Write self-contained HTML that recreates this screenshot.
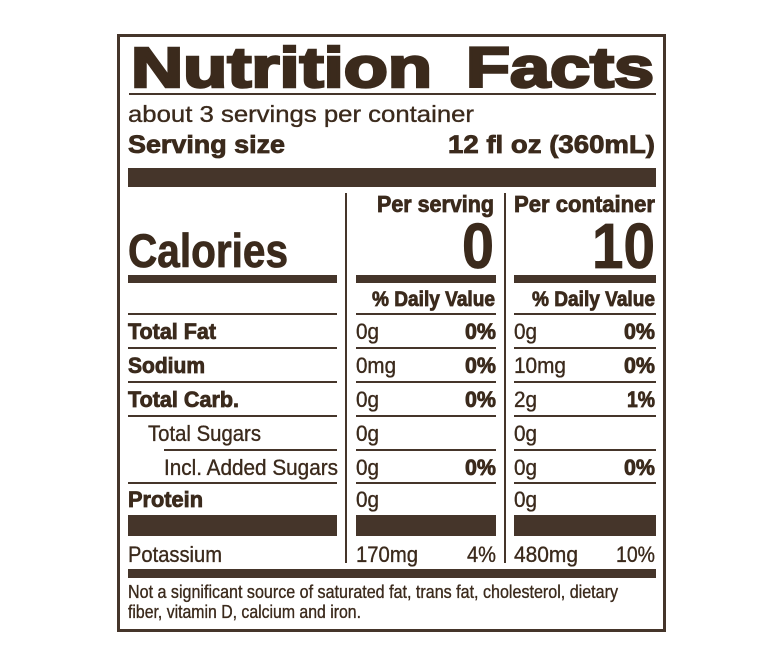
<!DOCTYPE html>
<html><head><meta charset="utf-8"><style>
html,body{margin:0;padding:0;background:#fff;}
svg{display:block;}
text{font-family:"Liberation Sans",Arial,sans-serif;fill:#3b2a1c;}
.b{font-weight:700;stroke:#3b2a1c;stroke-width:0.8;}
.r{font-weight:400;stroke:#3b2a1c;stroke-width:0.35;}
</style></head><body>
<svg width="769" height="661" viewBox="0 0 769 661" xmlns="http://www.w3.org/2000/svg">
<rect x="0" y="0" width="769" height="661" fill="#fff"/>
<g fill="#45352a">
<rect x="117" y="34" width="549" height="3"/>
<rect x="117" y="629" width="549" height="3"/>
<rect x="117" y="34" width="3" height="598"/>
<rect x="663" y="34" width="3" height="598"/>
<rect x="129" y="93" width="527" height="2"/>
<rect x="128" y="168" width="528" height="19"/>
<rect x="345" y="193" width="2" height="370"/>
<rect x="504" y="193" width="2" height="370"/>
<rect x="128" y="275" width="209" height="8"/>
<rect x="356" y="275" width="140" height="8"/>
<rect x="514" y="275" width="142" height="8"/>
<rect x="128" y="313" width="209" height="2"/>
<rect x="356" y="313" width="140" height="2"/>
<rect x="514" y="313" width="142" height="2"/>
<rect x="128" y="347" width="209" height="2"/>
<rect x="356" y="347" width="140" height="2"/>
<rect x="514" y="347" width="142" height="2"/>
<rect x="128" y="381" width="209" height="2"/>
<rect x="356" y="381" width="140" height="2"/>
<rect x="514" y="381" width="142" height="2"/>
<rect x="128" y="415" width="209" height="2"/>
<rect x="356" y="415" width="140" height="2"/>
<rect x="514" y="415" width="142" height="2"/>
<rect x="164" y="449" width="173" height="2"/>
<rect x="356" y="449" width="140" height="2"/>
<rect x="514" y="449" width="142" height="2"/>
<rect x="128" y="482" width="209" height="2"/>
<rect x="356" y="482" width="140" height="2"/>
<rect x="514" y="482" width="142" height="2"/>
<rect x="128" y="515" width="209" height="21"/>
<rect x="356" y="515" width="140" height="21"/>
<rect x="514" y="515" width="142" height="21"/>
<rect x="128" y="569" width="528" height="9"/>
</g>

<text x="131" y="87" font-size="57" font-weight="700" stroke="#3b2a1c" stroke-width="2.6" textLength="301" lengthAdjust="spacingAndGlyphs">Nutrition</text>
<text x="466" y="87" font-size="57" font-weight="700" stroke="#3b2a1c" stroke-width="2.6" textLength="188" lengthAdjust="spacingAndGlyphs">Facts</text>

<text class="r" x="128" y="122" font-size="23" textLength="346" lengthAdjust="spacingAndGlyphs">about 3 servings per container</text>
<text class="b" x="128" y="153" font-size="25" textLength="157" lengthAdjust="spacingAndGlyphs">Serving size</text>
<text class="b" x="448" y="153" font-size="25" textLength="207" lengthAdjust="spacingAndGlyphs">12 fl oz (360mL)</text>

<text class="b" x="377" y="212" font-size="23" textLength="117" lengthAdjust="spacingAndGlyphs">Per serving</text>
<text class="b" x="514" y="212" font-size="23" textLength="141" lengthAdjust="spacingAndGlyphs">Per container</text>

<text class="b" x="128" y="267" font-size="47" stroke-width="1.6" textLength="160" lengthAdjust="spacingAndGlyphs">Calories</text>
<text class="b" x="462" y="268" font-size="64" stroke-width="2" textLength="32" lengthAdjust="spacingAndGlyphs">0</text>
<text class="b" x="592" y="268" font-size="64" stroke-width="2" textLength="63" lengthAdjust="spacingAndGlyphs">10</text>

<text class="b" x="372" y="306" font-size="21" textLength="123" lengthAdjust="spacingAndGlyphs">% Daily Value</text>
<text class="b" x="532" y="306" font-size="21" textLength="123" lengthAdjust="spacingAndGlyphs">% Daily Value</text>

<text class="b" x="128" y="339" font-size="22" textLength="88" lengthAdjust="spacingAndGlyphs">Total Fat</text>
<text class="r" x="356" y="339" font-size="22" textLength="23" lengthAdjust="spacingAndGlyphs">0g</text>
<text class="b" x="465" y="339" font-size="22" textLength="31" lengthAdjust="spacingAndGlyphs">0%</text>
<text class="r" x="514" y="339" font-size="22" textLength="23" lengthAdjust="spacingAndGlyphs">0g</text>
<text class="b" x="624" y="339" font-size="22" textLength="31" lengthAdjust="spacingAndGlyphs">0%</text>

<text class="b" x="128" y="373" font-size="22" textLength="77" lengthAdjust="spacingAndGlyphs">Sodium</text>
<text class="r" x="356" y="373" font-size="22" textLength="40" lengthAdjust="spacingAndGlyphs">0mg</text>
<text class="b" x="465" y="373" font-size="22" textLength="31" lengthAdjust="spacingAndGlyphs">0%</text>
<text class="r" x="514" y="373" font-size="22" textLength="52" lengthAdjust="spacingAndGlyphs">10mg</text>
<text class="b" x="624" y="373" font-size="22" textLength="31" lengthAdjust="spacingAndGlyphs">0%</text>

<text class="b" x="128" y="407" font-size="22" textLength="111" lengthAdjust="spacingAndGlyphs">Total Carb.</text>
<text class="r" x="356" y="407" font-size="22" textLength="23" lengthAdjust="spacingAndGlyphs">0g</text>
<text class="b" x="465" y="407" font-size="22" textLength="31" lengthAdjust="spacingAndGlyphs">0%</text>
<text class="r" x="514" y="407" font-size="22" textLength="23" lengthAdjust="spacingAndGlyphs">2g</text>
<text class="b" x="627" y="407" font-size="22" textLength="28" lengthAdjust="spacingAndGlyphs">1%</text>

<text class="r" x="148" y="441" font-size="22" textLength="113" lengthAdjust="spacingAndGlyphs">Total Sugars</text>
<text class="r" x="356" y="441" font-size="22" textLength="23" lengthAdjust="spacingAndGlyphs">0g</text>
<text class="r" x="514" y="441" font-size="22" textLength="23" lengthAdjust="spacingAndGlyphs">0g</text>

<text class="r" x="164" y="475" font-size="22" textLength="174" lengthAdjust="spacingAndGlyphs">Incl. Added Sugars</text>
<text class="r" x="356" y="475" font-size="22" textLength="23" lengthAdjust="spacingAndGlyphs">0g</text>
<text class="b" x="465" y="475" font-size="22" textLength="31" lengthAdjust="spacingAndGlyphs">0%</text>
<text class="r" x="514" y="475" font-size="22" textLength="23" lengthAdjust="spacingAndGlyphs">0g</text>
<text class="b" x="624" y="475" font-size="22" textLength="31" lengthAdjust="spacingAndGlyphs">0%</text>

<text class="b" x="128" y="507" font-size="22" textLength="75" lengthAdjust="spacingAndGlyphs">Protein</text>
<text class="r" x="356" y="507" font-size="22" textLength="23" lengthAdjust="spacingAndGlyphs">0g</text>
<text class="r" x="514" y="507" font-size="22" textLength="23" lengthAdjust="spacingAndGlyphs">0g</text>

<text class="r" x="128" y="562" font-size="22" textLength="94" lengthAdjust="spacingAndGlyphs">Potassium</text>
<text class="r" x="356" y="562" font-size="22" textLength="62" lengthAdjust="spacingAndGlyphs">170mg</text>
<text class="r" x="467" y="562" font-size="22" textLength="29" lengthAdjust="spacingAndGlyphs">4%</text>
<text class="r" x="514" y="562" font-size="22" textLength="64" lengthAdjust="spacingAndGlyphs">480mg</text>
<text class="r" x="616" y="562" font-size="22" textLength="39" lengthAdjust="spacingAndGlyphs">10%</text>

<text class="r" x="128" y="598" font-size="18" stroke-width="0.4" textLength="490" lengthAdjust="spacingAndGlyphs">Not a significant source of saturated fat, trans fat, cholesterol, dietary</text>
<text class="r" x="128" y="618" font-size="18" stroke-width="0.4" textLength="233" lengthAdjust="spacingAndGlyphs">fiber, vitamin D, calcium and iron.</text>
</svg>
</body></html>
